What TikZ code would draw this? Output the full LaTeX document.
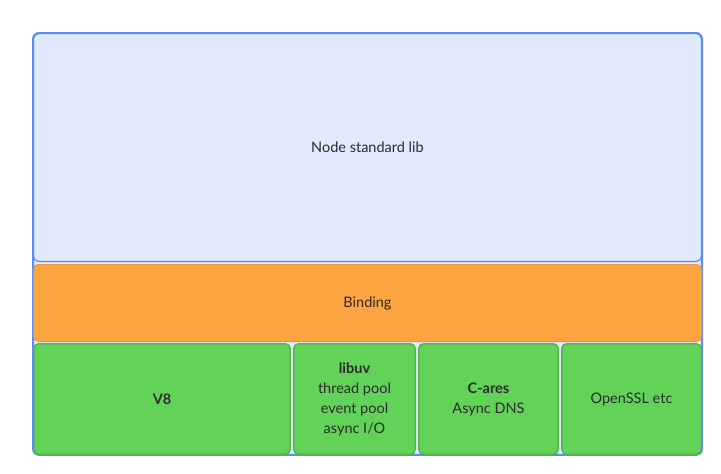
\documentclass[tikz,border=0pt]{standalone}
\usepackage{fontspec}
\setmainfont{Lato}
\usepackage{xcolor}
\usepackage{tikz}
\usetikzlibrary{positioning,fit,backgrounds}

\definecolor{stdfill}{HTML}{E1E9FD}
\definecolor{stdline}{HTML}{5C8DF6}
\definecolor{bindfill}{HTML}{FCA43F}
\definecolor{bindline}{HTML}{EA983C}
\definecolor{libfill}{HTML}{62D258}
\definecolor{libline}{HTML}{57B24E}
\definecolor{textcol}{HTML}{2B2B2B}

\begin{document}
\begin{tikzpicture}[
  x=1pt, y=-1pt,
  layer/.style={rounded corners=5pt, inner sep=0pt, outer sep=0pt,
    align=center, text=textcol, font=\fontsize{14.5}{20}\selectfont},
  stdbox/.style={layer, fill=stdfill, draw=stdline, line width=1.2pt,
    minimum width=667.8pt, minimum height=227.8pt},
  bindbox/.style={layer, fill=bindfill, draw=bindline, line width=1pt,
    minimum width=668pt, minimum height=77pt},
  libbox/.style={layer, fill=libfill, draw=libline, line width=1.5pt,
    minimum height=110.5pt},
  outerbox/.style={rounded corners=6pt, fill=stdfill, draw=stdline,
    line width=2pt, inner sep=0.6pt, outer sep=0pt}
]
  \useasboundingbox (0,0) rectangle (721,474);

  \node[stdbox, anchor=north west] (stdlib) at (33.6,33.6) {Node standard lib};
  \node[bindbox, below=3.1pt of stdlib] (binding) {Binding};
  \node[libbox, minimum width=256.5pt,
    below right=2.25pt and 0.25pt of binding.south west] (v8) {\textbf{V8}};
  \node[libbox, minimum width=121.5pt, right=3.5pt of v8] (libuv)
    {\textbf{libuv}\\thread pool\\event pool\\async I/O};
  \node[libbox, minimum width=139.5pt, right=3.5pt of libuv] (cares)
    {\textbf{C-ares}\\Async DNS};
  \node[libbox, minimum width=139.5pt, right=3.5pt of cares] (openssl)
    {OpenSSL etc};

  % container behind the layers
  \begin{scope}[on background layer]
    \node[outerbox, fit=(stdlib)(v8)(openssl)] (node) {};
  \end{scope}
\end{tikzpicture}
\end{document}
